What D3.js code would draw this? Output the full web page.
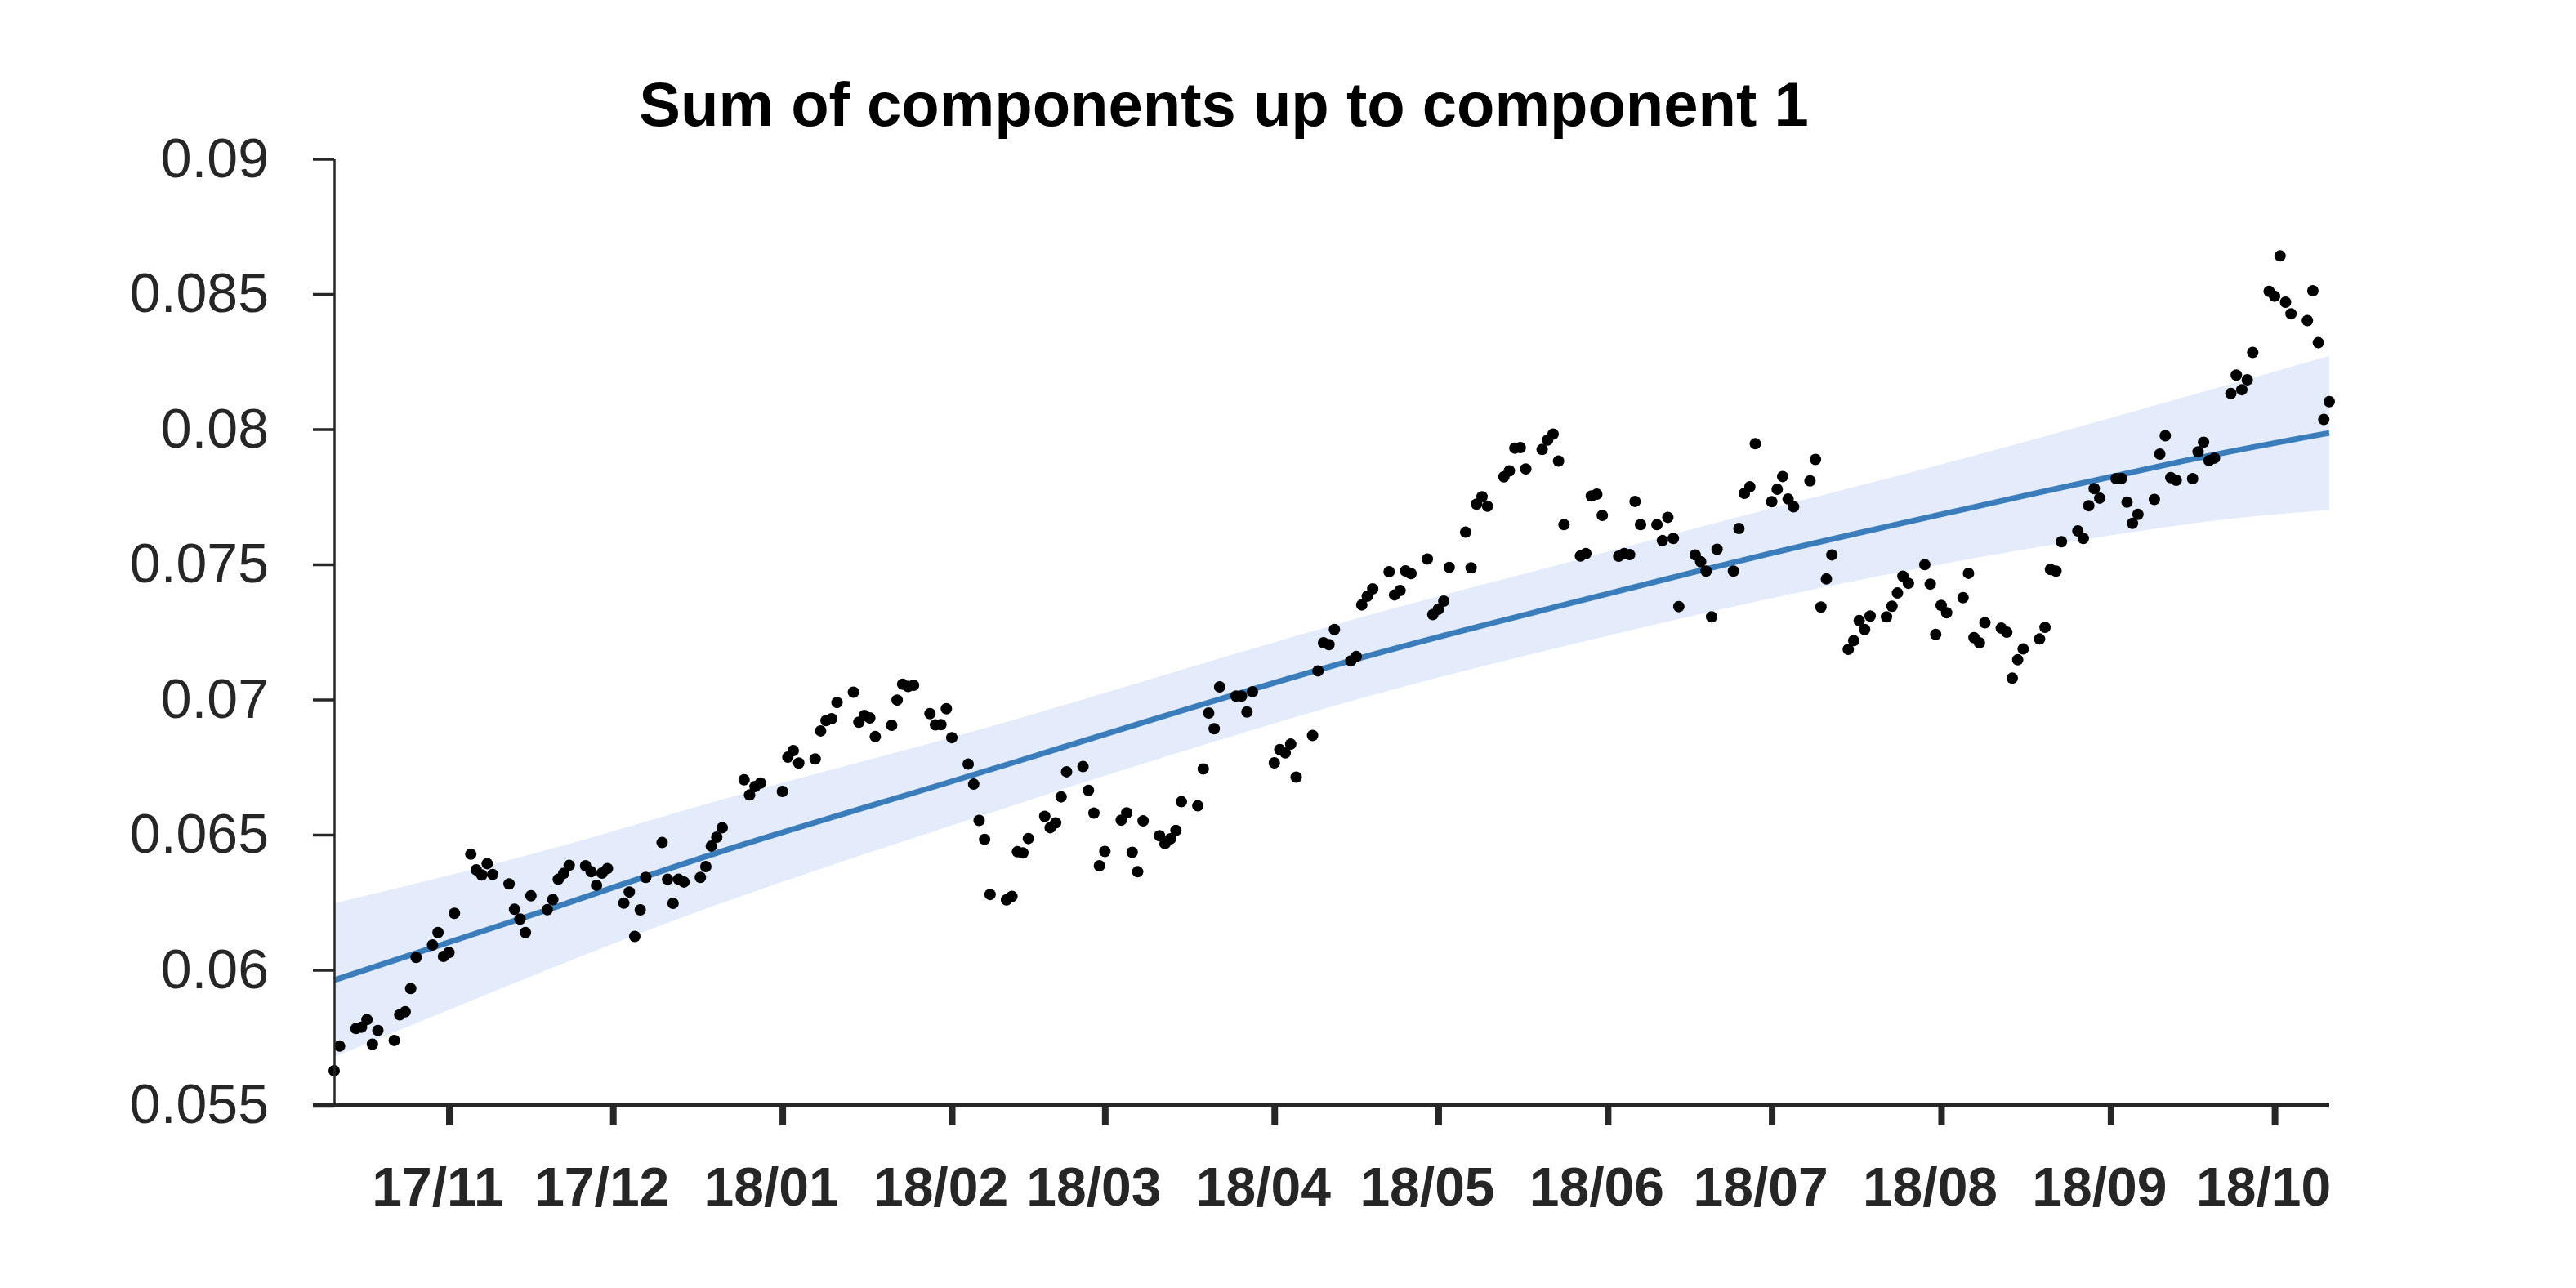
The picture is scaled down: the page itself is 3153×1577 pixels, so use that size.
<!DOCTYPE html>
<html><head><meta charset="utf-8">
<script src="https://cdn.jsdelivr.net/npm/d3@7"></script>
<style>html,body{margin:0;padding:0;background:#fff;}</style>
</head><body>
<script>
const dates = ["2017-10-11","2017-10-12","2017-10-15","2017-10-16","2017-10-17","2017-10-18","2017-10-19","2017-10-22","2017-10-23","2017-10-24","2017-10-25","2017-10-26","2017-10-29","2017-10-30","2017-10-31","2017-11-01","2017-11-02","2017-11-05","2017-11-06","2017-11-07","2017-11-08","2017-11-09","2017-11-12","2017-11-13","2017-11-14","2017-11-15","2017-11-16","2017-11-19","2017-11-20","2017-11-21","2017-11-22","2017-11-23","2017-11-26","2017-11-27","2017-11-28","2017-11-29","2017-11-30","2017-12-03","2017-12-04","2017-12-05","2017-12-06","2017-12-07","2017-12-10","2017-12-11","2017-12-12","2017-12-13","2017-12-14","2017-12-17","2017-12-18","2017-12-19","2017-12-20","2017-12-21","2017-12-25","2017-12-26","2017-12-27","2017-12-28",
"2018-01-01","2018-01-02","2018-01-03","2018-01-04","2018-01-07","2018-01-08","2018-01-09","2018-01-10","2018-01-11","2018-01-14","2018-01-15","2018-01-16","2018-01-17","2018-01-18","2018-01-21","2018-01-22","2018-01-23","2018-01-24","2018-01-25","2018-01-28","2018-01-29","2018-01-30","2018-01-31","2018-02-01","2018-02-04","2018-02-05","2018-02-06","2018-02-07","2018-02-08","2018-02-11","2018-02-12","2018-02-13","2018-02-14","2018-02-15","2018-02-18","2018-02-19","2018-02-20","2018-02-21","2018-02-22","2018-02-25","2018-02-26","2018-02-27","2018-02-28","2018-03-01","2018-03-04","2018-03-05","2018-03-06","2018-03-07","2018-03-08","2018-03-11","2018-03-12","2018-03-13","2018-03-14","2018-03-15","2018-03-18","2018-03-19","2018-03-20","2018-03-21","2018-03-22","2018-03-25","2018-03-26","2018-03-27","2018-03-28",
"2018-04-01","2018-04-02","2018-04-03","2018-04-04","2018-04-05","2018-04-08","2018-04-09","2018-04-10","2018-04-11","2018-04-12","2018-04-15","2018-04-16","2018-04-17","2018-04-18","2018-04-19","2018-04-22","2018-04-23","2018-04-24","2018-04-25","2018-04-26","2018-04-29","2018-04-30","2018-05-01","2018-05-02","2018-05-03","2018-05-06","2018-05-07","2018-05-08","2018-05-09","2018-05-10","2018-05-13","2018-05-14","2018-05-15","2018-05-16","2018-05-17","2018-05-20","2018-05-21","2018-05-22","2018-05-23","2018-05-24","2018-05-27","2018-05-28","2018-05-29","2018-05-30","2018-05-31","2018-06-03","2018-06-04","2018-06-05","2018-06-06","2018-06-07","2018-06-10","2018-06-11","2018-06-12","2018-06-13","2018-06-14","2018-06-17","2018-06-18","2018-06-19","2018-06-20","2018-06-21","2018-06-24","2018-06-25","2018-06-26","2018-06-27","2018-06-28",
"2018-07-01","2018-07-02","2018-07-03","2018-07-04","2018-07-05","2018-07-08","2018-07-09","2018-07-10","2018-07-11","2018-07-12","2018-07-15","2018-07-16","2018-07-17","2018-07-18","2018-07-19","2018-07-22","2018-07-23","2018-07-24","2018-07-25","2018-07-26","2018-07-29","2018-07-30","2018-07-31","2018-08-01","2018-08-02","2018-08-05","2018-08-06","2018-08-07","2018-08-08","2018-08-09","2018-08-12","2018-08-13","2018-08-14","2018-08-15","2018-08-16","2018-08-19","2018-08-20","2018-08-21","2018-08-22","2018-08-23","2018-08-26","2018-08-27","2018-08-28","2018-08-29","2018-08-30","2018-09-02","2018-09-03","2018-09-04","2018-09-05","2018-09-06","2018-09-09","2018-09-10","2018-09-11","2018-09-12","2018-09-13","2018-09-16","2018-09-17","2018-09-18","2018-09-19","2018-09-20","2018-09-23","2018-09-24","2018-09-25","2018-09-26","2018-09-27","2018-09-30","2018-10-01","2018-10-02","2018-10-03","2018-10-04","2018-10-07","2018-10-08","2018-10-09","2018-10-10","2018-10-11"];

const values = [0.05627,0.05718,0.05783,0.05788,0.05816,0.05725,0.05776,0.05739,0.05834,0.05845,0.05931,0.06046,0.06092,0.06138,0.06050,0.06064,0.06209,0.06428,0.06370,0.06351,0.06393,0.06353,0.06318,0.06224,0.06188,0.06138,0.06274,0.06223,0.06260,0.06335,0.06357,0.06387,0.06385,0.06363,0.06313,0.06358,0.06375,0.06247,0.06288,0.06124,0.06222,0.06342,0.06471,0.06335,0.06246,0.06335,0.06325,0.06342,0.06382,0.06458,0.06491,0.06526,0.06703,0.06647,0.06678,0.06691,
0.06660,0.06787,0.06811,0.06765,0.06780,0.06884,0.06922,0.06929,0.06989,0.07027,0.06916,0.06941,0.06932,0.06863,0.06905,0.06998,0.07057,0.07048,0.07053,0.06948,0.06906,0.06907,0.06966,0.06859,0.06761,0.06687,0.06553,0.06483,0.06279,0.06259,0.06272,0.06437,0.06433,0.06486,0.06568,0.06526,0.06544,0.06640,0.06733,0.06752,0.06664,0.06580,0.06385,0.06438,0.06554,0.06581,0.06435,0.06363,0.06551,0.06496,0.06467,0.06485,0.06516,0.06622,0.06607,0.06743,0.06950,0.06892,0.07047,0.07013,0.07013,0.06954,0.07029,
0.06766,0.06815,0.06803,0.06835,0.06713,0.06867,0.07106,0.07210,0.07203,0.07259,0.07143,0.07159,0.07350,0.07382,0.07409,0.07473,0.07387,0.07403,0.07476,0.07466,0.07520,0.07314,0.07334,0.07364,0.07489,0.07619,0.07487,0.07723,0.07750,0.07715,0.07824,0.07846,0.07930,0.07932,0.07853,0.07925,0.07960,0.07982,0.07882,0.07647,0.07531,0.07540,0.07753,0.07760,0.07681,0.07530,0.07540,0.07536,0.07733,0.07647,0.07647,0.07588,0.07674,0.07596,0.07344,0.07535,0.07510,0.07475,0.07306,0.07556,0.07475,0.07633,0.07763,0.07787,0.07946,
0.07732,0.07778,0.07825,0.07742,0.07713,0.07809,0.07888,0.07342,0.07446,0.07535,0.07186,0.07218,0.07292,0.07259,0.07309,0.07306,0.07345,0.07394,0.07456,0.07430,0.07499,0.07427,0.07241,0.07348,0.07321,0.07377,0.07467,0.07229,0.07210,0.07284,0.07264,0.07249,0.07079,0.07147,0.07187,0.07224,0.07267,0.07481,0.07475,0.07584,0.07624,0.07596,0.07717,0.07780,0.07745,0.07817,0.07818,0.07730,0.07652,0.07685,0.07740,0.07908,0.07976,0.07821,0.07811,0.07817,0.07916,0.07952,0.07884,0.07893,0.08132,0.08200,0.08146,0.08183,0.08284,0.08510,0.08492,0.08641,0.08470,0.08427,0.08402,0.08512,0.08320,0.08036,0.08102];

// fitted trend and confidence band
const fitDates = ["2017-10-11","2017-11-19","2017-12-23","2018-01-30","2018-03-08","2018-04-17","2018-05-22","2018-06-28","2018-08-05","2018-09-14","2018-10-11"];
const fitValues = [0.05962,0.06222,0.06452,0.06685,0.06915,0.07155,0.07340,0.07527,0.07703,0.07881,0.07986];
const bandUpper = [0.06246,0.06444,0.06642,0.06849,0.07067,0.07305,0.07493,0.07692,0.07891,0.08116,0.08271];
const bandLower = [0.05678,0.06000,0.06262,0.06521,0.06763,0.07005,0.07187,0.07362,0.07515,0.07646,0.07701];

const yTicks = [0.055,0.06,0.065,0.07,0.075,0.08,0.085,0.09];
const yTickLabels = ["0.055","0.06","0.065","0.07","0.075","0.08","0.085","0.09"];
const xTickDates = ["2017-11-01","2017-12-01","2018-01-01","2018-02-01","2018-03-01","2018-04-01","2018-05-01","2018-06-01","2018-07-01","2018-08-01","2018-09-01","2018-10-01"];
const xTickLabels = ["17/11","17/12","18/01","18/02","18/03","18/04","18/05","18/06","18/07","18/08","18/09","18/10"];
const titleText = "Sum of components up to component 1";

const W = 3153, H = 1577;
const parse = d3.utcParse("%Y-%m-%d");
const FONT = "'Liberation Sans', Arial, Helvetica, sans-serif";
const AX = "#262626";

const svg = d3.select("body").append("svg").attr("width", W).attr("height", H)
  .style("background", "#fff").style("font-family", FONT);

const x = d3.scaleUtc().domain([parse("2017-10-11"), parse("2018-10-11")]).range([409, 2851]);
const y = d3.scaleLinear().domain([0.055, 0.09]).range([1353, 194.5]);

const fit = fitDates.map((d, i) => ({date: parse(d), v: fitValues[i], hi: bandUpper[i], lo: bandLower[i]}));
const pts = dates.map((d, i) => ({date: parse(d), v: values[i]}));

svg.append("path").datum(fit)
  .attr("d", d3.area().x(d => x(d.date)).y0(d => y(d.lo)).y1(d => y(d.hi)).curve(d3.curveNatural))
  .attr("fill", "#e4ecfc");

svg.append("path").datum(fit)
  .attr("d", d3.line().x(d => x(d.date)).y(d => y(d.v)).curve(d3.curveNatural))
  .attr("fill", "none").attr("stroke", "#3a7dba").attr("stroke-width", 7);

svg.append("g").selectAll("circle").data(pts).join("circle")
  .attr("cx", d => x(d.date)).attr("cy", d => y(d.v)).attr("r", 7).attr("fill", "#000");

// Y axis
const gy = svg.append("g").attr("transform", "translate(409,0)")
  .call(d3.axisLeft(y).tickValues(yTicks).tickFormat((d, i) => yTickLabels[i]).tickSize(26).tickSizeOuter(0).tickPadding(54));
gy.select(".domain").attr("stroke", AX).attr("stroke-width", 2.5);
gy.selectAll(".tick line").attr("stroke", AX).attr("stroke-width", 3.5);
gy.selectAll(".tick text").attr("fill", AX).style("font-size", "68px").style("font-family", FONT);

// X axis
const gx = svg.append("g").attr("transform", "translate(0,1353)")
  .call(d3.axisBottom(x).tickValues(xTickDates.map(parse)).tickFormat((d, i) => xTickLabels[i]).tickSize(25).tickSizeOuter(0));
gx.select(".domain").remove();
gx.append("line").attr("x1", 383).attr("x2", 2851).attr("y1", 0).attr("y2", 0).attr("stroke", AX).attr("stroke-width", 4);
gx.selectAll(".tick line").attr("stroke", AX).attr("stroke-width", 8);
gx.selectAll(".tick text").attr("fill", AX).attr("y", 123).attr("dy", 0).attr("dx", -14)
  .style("font-size", "66px").style("font-weight", "bold").style("font-family", FONT);

svg.append("text").attr("x", 1498).attr("y", 154).attr("text-anchor", "middle")
  .style("font-size", "76px").style("font-weight", "bold").attr("fill", "#000").text(titleText);
</script>
</body></html>
